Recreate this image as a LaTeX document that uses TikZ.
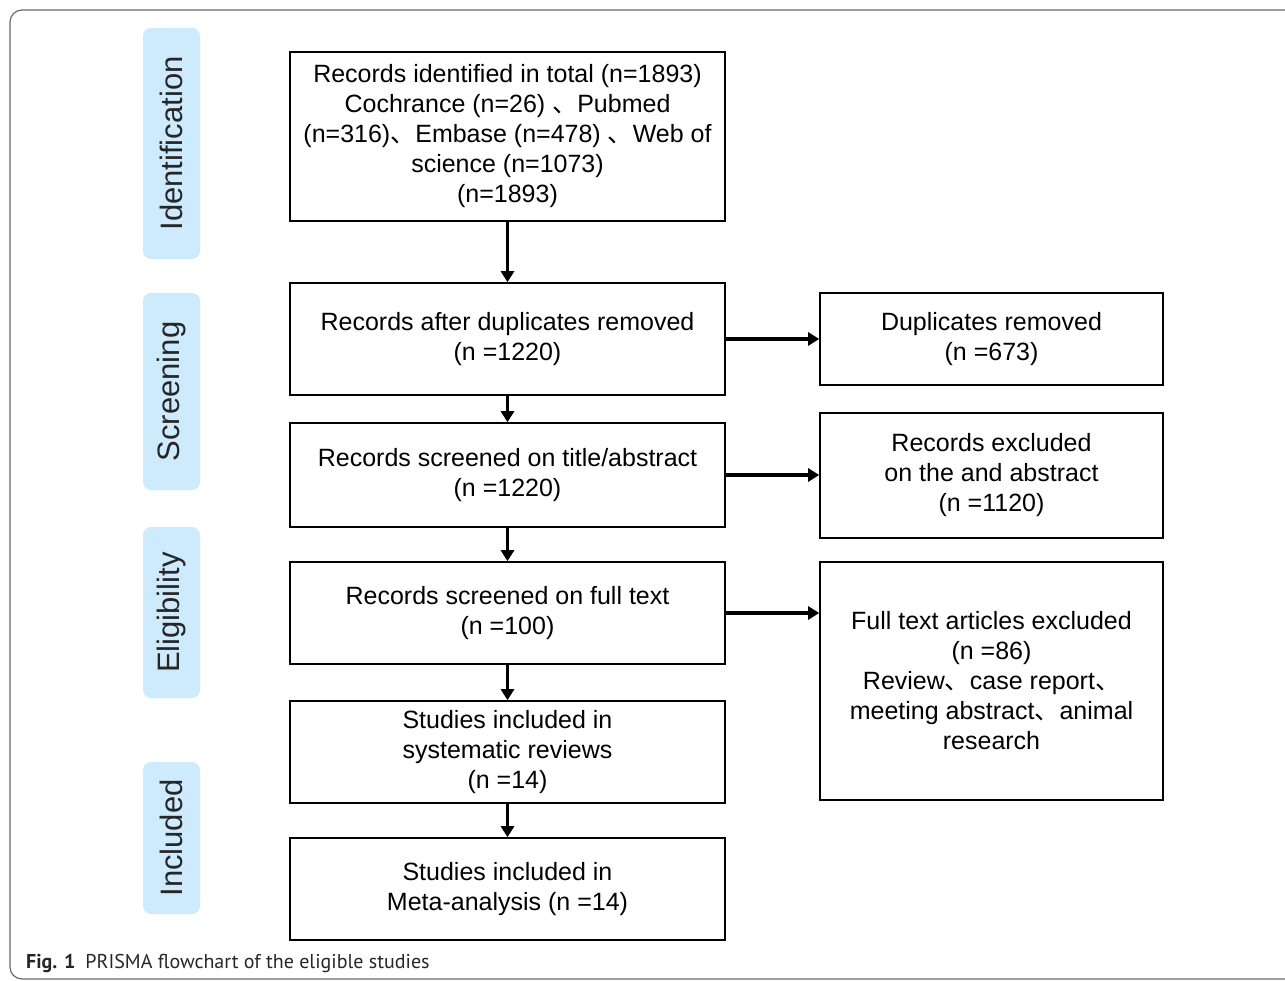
\documentclass[tikz,border=0pt]{standalone}
\usepackage{fontspec}
\setmainfont{Liberation Sans}
\newfontfamily\cjk{Noto Sans CJK SC}
\newfontfamily\capfont{PT Sans}
\usepackage{xcolor}
\usetikzlibrary{arrows.meta,positioning}
\definecolor{stagefill}{RGB}{205,235,252}
\definecolor{framegray}{RGB}{105,105,105}
\newcommand{\dunhao}{{\cjk 、}}

\begin{document}
\begin{tikzpicture}[x=1pt,y=-1pt,
    box/.style={draw, line width=1.6pt, minimum width=435pt, align=center, inner sep=0pt, font=\fontsize{25}{30}\selectfont},
    sidebox/.style={box, minimum width=343pt},
    stage/.style={fill=stagefill, rounded corners=8pt, rotate=90, minimum height=57pt, inner sep=0pt, text=black!85, font=\fontsize{31}{36}\selectfont},
    flow/.style={line width=3.6pt, -{Triangle[length=11pt,width=13pt]}}]
    \useasboundingbox (0,0) rectangle (1285,981);
    \clip (0,0) rectangle (1285,981);
    \draw[framegray, line width=1.2pt, rounded corners=12pt] (10,10) rectangle (1320,979);

    % stages
    \node[stage, minimum width=231pt] (ident) at (171.5,143.5) {Identification};
    \node[stage, minimum width=197pt] (screen) at (171.5,391.5) {Screening};
    \node[stage, minimum width=171pt] (elig) at (171.5,612.5) {Eligibility};
    \node[stage, minimum width=152pt] (incl) at (171.5,838) {Included};

    % main column
    \node[box, minimum height=169pt] (total) at (507.5,136.5) {Records identified in total (n=1893)\\ Cochrance (n=26) \dunhao Pubmed\\ (n=316)\dunhao Embase (n=478) \dunhao Web of\\ science (n=1073)\\ (n=1893)};
    \node[box, minimum height=112pt] (dedup) at (507.5,339) {Records after duplicates removed\\ (n =1220)};
    \node[box, minimum height=104pt] (title) at (507.5,475) {Records screened on title/abstract\\ (n =1220)};
    \node[box, minimum height=102pt] (full) at (507.5,613) {Records screened on full text\\ (n =100)};
    \node[box, minimum height=102pt] (sysrev) at (507.5,752) {Studies included in\\ systematic reviews\\ (n =14)};
    \node[box, minimum height=102pt] (meta) at (507.5,889) {Studies included in\\ Meta-analysis (n =14)};

    % excluded column
    \node[sidebox, minimum height=92pt] (dupl) at (991.5,339) {Duplicates removed\\ (n =673)};
    \node[sidebox, minimum height=125pt] (exabs) at (991.5,475.5) {Records excluded\\ on the and abstract\\ (n =1120)};
    \node[sidebox, minimum height=238pt] (exfull) at (991.5,681) {Full text articles excluded\\ (n =86)\\ Review\dunhao case report\dunhao\\ meeting abstract\dunhao animal\\ research};

    \draw[flow] (total) -- (dedup);
    \draw[flow] (dedup) -- (title);
    \draw[flow] (title) -- (full);
    \draw[flow] (full) -- (sysrev);
    \draw[flow] (sysrev) -- (meta);
    \draw[flow] (dedup) -- (dupl);
    \draw[flow] (title.east) -- (title.east -| exabs.west);
    \draw[flow] (full.east) -- (full.east -| exfull.west);

    \node[anchor=base west, inner sep=0pt, text=black!85, font=\capfont\fontsize{20}{24}\selectfont] (caption) at (26,968) {\textbf{Fig. 1}\hspace{10pt}PRISMA flowchart of the eligible studies};
\end{tikzpicture}
\end{document}
